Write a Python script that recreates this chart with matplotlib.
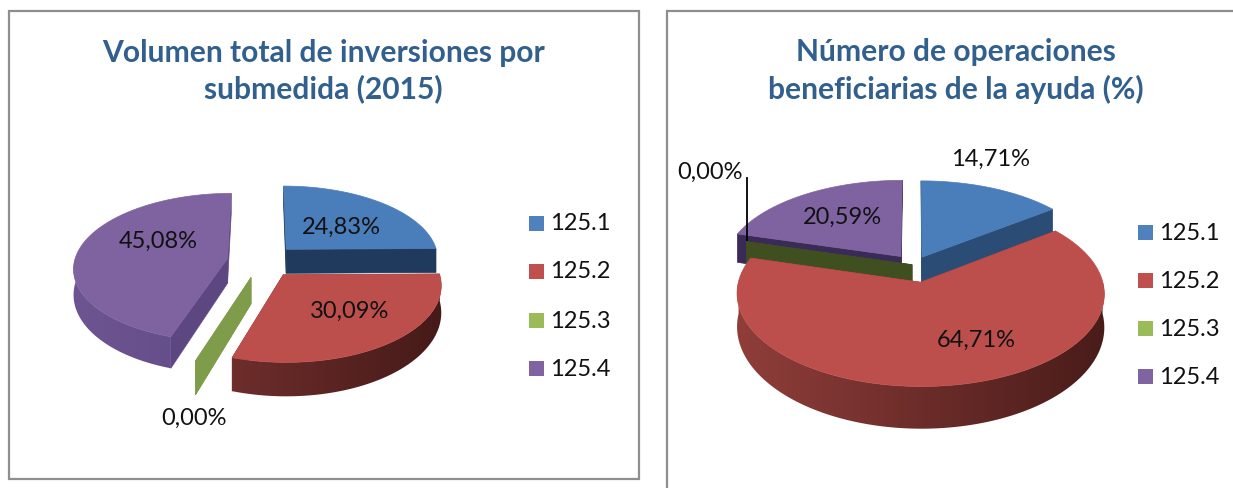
import numpy as np
import matplotlib
matplotlib.use("Agg")
import matplotlib.pyplot as plt
from matplotlib.patches import Polygon, Rectangle
from matplotlib.colors import to_rgb

plt.rcParams['font.family'] = ['Lato', 'DejaVu Sans']

categories = ['125.1', '125.2', '125.3', '125.4']
volumen = [24.83, 30.09, 0.00, 45.08]
operaciones = [14.71, 64.71, 0.00, 20.59]
title_left = 'Volumen total de inversiones por\nsubmedida (2015)'
title_right = 'Número de operaciones\nbeneficiarias de la ayuda (%)'

TOP = ['#4a7ebb', '#bc4f4c', '#7f9c4a', '#7f63a1']
LEG = ['#4f81bd', '#c0504d', '#9bbb59', '#8064a2']
TITLE = '#31608f'

fig = plt.figure(figsize=(12.33, 4.88), dpi=100, facecolor='white')
ax = fig.add_axes([0, 0, 1, 1])
ax.axis('off')


def pie3d(values, cx, cy, R, tilt, k, depth, explode, order, cut, side):
    edges = np.concatenate([[0], np.cumsum(values)]) / sum(values) * 2 * np.pi
    xmin, xmax = cx - R * 1.25, cx + R * 1.25

    def proj(a, rad, e, b):
        X = rad * np.sin(a) + e / R * np.sin(b)
        Z = -rad * np.cos(a) - e / R * np.cos(b)
        s = 1 / (1 - k * Z)
        return cx + R * X * s, cy + R * tilt * Z * s, depth * s ** 2

    for i in order:
        a0, a1 = edges[i], edges[i + 1]
        b = (a0 + a1) / 2
        e = explode[i]
        angs = np.linspace(a0, a1, max(2, int((a1 - a0) * 90)))
        x, y, d = proj(angs, 1.0, e, b)
        ax_, ay_, ad_ = proj(0.0, 0.0, e, b)
        # radial cut faces
        for j in (0, -1):
            ax.add_patch(Polygon([(ax_, ay_), (x[j], y[j]), (x[j], y[j] + d[j]), (ax_, ay_ + ad_)],
                                 closed=True, fc=cut[i], ec=cut[i], lw=0.5, zorder=2))
        # outer rim, shaded left to right through a clipped gradient
        front = np.cos(angs) <= 0.02
        if front.sum() > 1:
            c0, c1 = np.array(to_rgb(side[i][0])), np.array(to_rgb(side[i][1]))
            grad = c0 + (c1 - c0) * np.linspace(0, 1, 256)[:, None]
            rim = Polygon(np.column_stack([np.r_[x[front], x[front][::-1]],
                                           np.r_[y[front], (y + d)[front][::-1]]]),
                          closed=True, transform=ax.transData, fc='none', ec='none')
            im = ax.imshow(grad[None, :, :], extent=(xmin, xmax, cy + 2 * R, cy - 2 * R),
                           aspect='auto', zorder=2, interpolation='bilinear')
            ax.add_patch(rim)
            im.set_clip_path(rim)
        # top surface
        if a1 > a0:
            ax.add_patch(Polygon(np.column_stack([np.r_[ax_, x], np.r_[ay_, y]]),
                                 closed=True, fc=TOP[i], ec=TOP[i], lw=0.5, zorder=3))


def legend(x, ys):
    for name, col, y in zip(categories, LEG, ys):
        ax.add_patch(Rectangle((x, y - 7.5), 15, 15, fc=col, ec='none', zorder=4))
        ax.text(x + 21, y + 1, name, fontsize=17, color='#111111', va='center', ha='left', zorder=5)


def fmt(v):
    return f'{v:.2f}'.replace('.', ',') + '%'


# frames
ax.add_patch(Rectangle((8.5, 10.5), 630, 468, fc='white', ec='#8e8e8e', lw=1.6, zorder=1))
ax.add_patch(Rectangle((667, 11), 600, 520, fc='white', ec='#8e8e8e', lw=1.6, zorder=1))

# titles
ax.text(323.5, 71, title_left, fontsize=21.6, fontweight='bold', color=TITLE, ha='center', va='center',
        linespacing=1.33, zorder=5)
ax.text(956, 71, title_right, fontsize=21.6, fontweight='bold', color=TITLE, ha='center', va='center',
        linespacing=1.33, zorder=5)

# left pie
pie3d(volumen, 262, 261, 153, 0.48, 0.12, 25, [35, 35, 35, 35], [0, 3, 2, 1],
      ['#1f3a5c', '#7a2f2c', '#7f9c4a', '#5c4780'],
      [('#2a4a70', '#2a4a70'), ('#8c3d3a', '#431917'), ('#7f9c4a', '#7f9c4a'), ('#6d5592', '#4f3d70')])
# right pie
pie3d(operaciones, 914, 265, 178, 0.49, 0.12, 31, [18, 35, 2, 22], [3, 0, 2, 1],
      ['#2b4c74', '#7a2f2c', '#3f4f20', '#3a2a58'],
      [('#2b4c74', '#2b4c74'), ('#98423e', '#431917'), ('#3f4f20', '#3f4f20'), ('#33285a', '#33285a')])

# leader line
ax.plot([747, 747], [178, 240], color='black', lw=1.3, zorder=6)

legend(529, [223, 271, 320, 368])
legend(1138, [232, 280, 328, 376])

for v, (x, y) in zip(volumen, [(341, 227), (350, 311), (194, 418), (158, 241)]):
    ax.text(x, y, fmt(v), fontsize=17, color='#111111', ha='center', va='center', zorder=7)
for v, (x, y) in zip(operaciones, [(991, 159), (976, 340), (710, 172), (842, 217)]):
    ax.text(x, y, fmt(v), fontsize=17, color='#111111', ha='center', va='center', zorder=7)

ax.set_xlim(0, 1233)
ax.set_ylim(488, 0)
fig.savefig('out.png', dpi=100)
